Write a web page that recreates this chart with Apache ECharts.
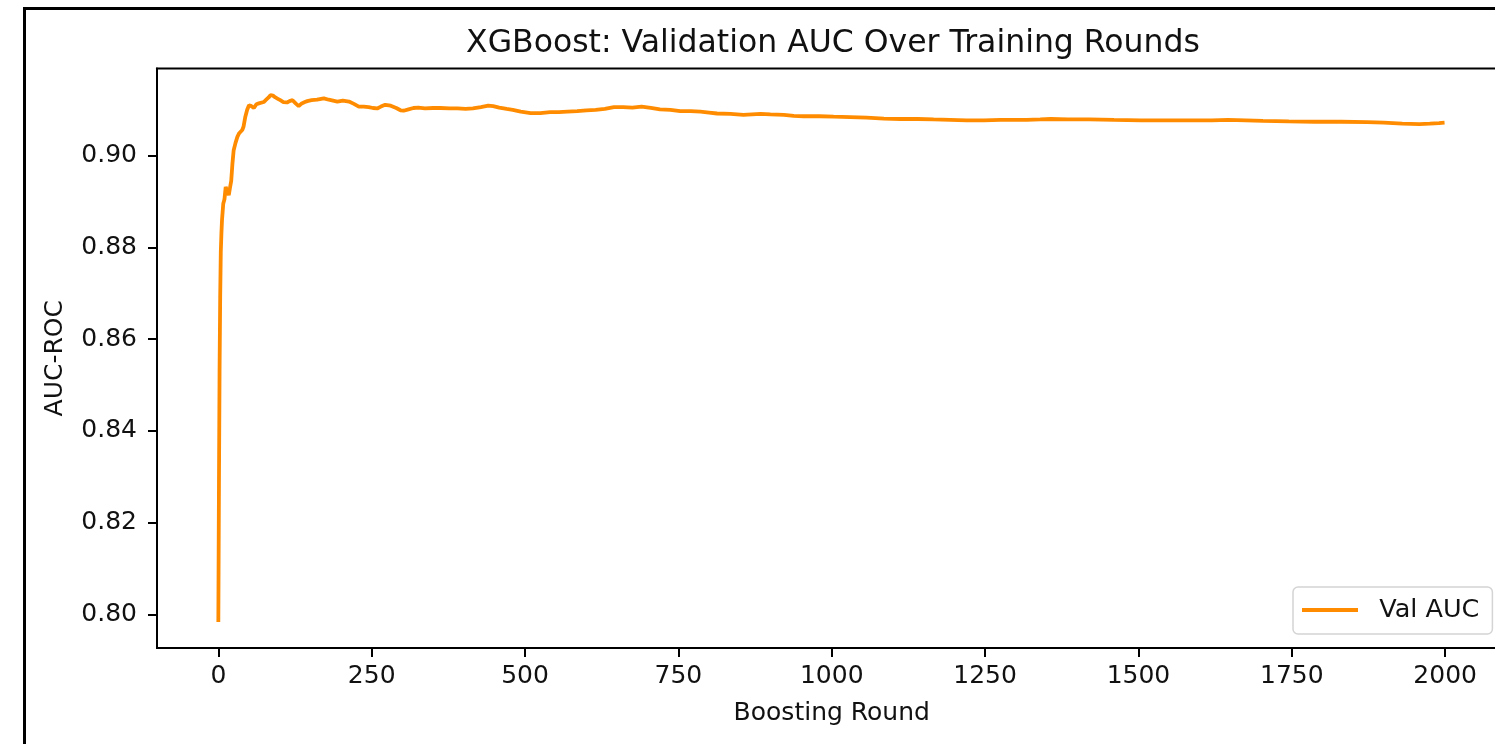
<!DOCTYPE html>
<html>
<head>
<meta charset="utf-8">
<script src="https://cdn.jsdelivr.net/npm/echarts@6/dist/echarts.min.js"></script>
<style>
    html, body { margin: 0; padding: 0; background: #fff; overflow: hidden; }
    #chart { width: 1520px; height: 744px; }
</style>
</head>
<body>
<div id="chart"></div>
<script>
// values (boosting round -> validation AUC)
const rounds = [
    0, 1, 2, 3, 4, 5, 6, 8, 10, 12, 14, 17, 19, 21, 23, 25, 28, 31, 34, 36, 39, 41, 44, 47, 50, 54, 58, 62, 66, 69,
    74, 78, 82, 85, 89, 93, 97, 101, 106, 112, 116, 121, 126, 131, 136, 141, 145, 152, 161, 172, 180, 187, 194, 203,
    213, 221, 229, 237, 245, 252, 259, 265, 272, 281, 290, 297, 302, 310, 318, 326, 337, 350, 362, 377, 390, 403, 415,
    428, 440, 448, 458, 470, 480, 493, 509, 525, 541, 555, 569, 585, 600, 615, 630, 645, 660, 675, 690, 705, 720, 737,
    753, 770, 786, 800, 813, 835, 856, 870, 884, 900, 922, 938, 954, 980, 1003, 1030, 1057, 1085, 1112, 1140, 1166,
    1193, 1220, 1248, 1275, 1300, 1318, 1340, 1357, 1385, 1420, 1460, 1504, 1545, 1589, 1620, 1646, 1675, 1703, 1745,
    1788, 1830, 1873, 1900, 1930, 1958, 1975, 1990, 1999,
]
const valAuc = [
    0.7983, 0.828, 0.853, 0.869, 0.879, 0.883, 0.886, 0.8895, 0.8905, 0.8932, 0.8925, 0.8914, 0.893, 0.8945, 0.8983,
    0.9012, 0.9028, 0.9041, 0.9049, 0.9052, 0.9056, 0.9063, 0.9085, 0.91, 0.911, 0.9108, 0.9104, 0.9112, 0.9114, 0.9118,
    0.9117, 0.9122, 0.9127, 0.9132, 0.9131, 0.9127, 0.9124, 0.9121, 0.9117, 0.9116, 0.9119, 0.9121, 0.9114, 0.9108,
    0.9114, 0.9117, 0.9119, 0.9121, 0.9122, 0.9125, 0.9122, 0.912, 0.9118, 0.912, 0.9118, 0.9113, 0.9107, 0.9107,
    0.9106, 0.9104, 0.9103, 0.9107, 0.9111, 0.9109, 0.9104, 0.9099, 0.9098, 0.9101, 0.9104, 0.9105, 0.9103, 0.9104,
    0.9104, 0.9103, 0.9103, 0.9102, 0.9103, 0.9106, 0.9109, 0.9108, 0.9105, 0.9102, 0.91, 0.9096, 0.9093, 0.9093,
    0.9095, 0.9095, 0.9096, 0.9097, 0.9099, 0.91, 0.9102, 0.9106, 0.9106, 0.9105, 0.9107, 0.9104, 0.9101, 0.91, 0.9097,
    0.9097, 0.9096, 0.9094, 0.9092, 0.9091, 0.9089, 0.909, 0.9091, 0.909, 0.9089, 0.9087, 0.9086, 0.9086, 0.9085,
    0.9084, 0.9083, 0.9081, 0.908, 0.908, 0.9079, 0.9078, 0.9077, 0.9077, 0.9078, 0.9078, 0.9078, 0.9079, 0.908, 0.9079,
    0.9079, 0.9078, 0.9077, 0.9077, 0.9077, 0.9077, 0.9078, 0.9077, 0.9076, 0.9075, 0.9074, 0.9074, 0.9073, 0.9072,
    0.907, 0.9069, 0.907, 0.9071, 0.9072,
]
const xTicks = [0, 250, 500, 750, 1000, 1250, 1500, 1750, 2000]
const yTicks = [0.8, 0.82, 0.84, 0.86, 0.88, 0.9]

const font = 'DejaVu Sans'
const ink = '#111'
const tickStyle = { length: 9, lineStyle: { color: '#000', width: 2 } }
const spine = { onZero: false, lineStyle: { color: '#000', width: 2 } }

const chart = echarts.init(document.getElementById('chart'), null, { renderer: 'canvas' })
chart.setOption({
    animation: false,
    backgroundColor: '#fff',
    title: {
        text: 'XGBoost: Validation AUC Over Training Rounds',
        left: 828,
        top: 23,
        textAlign: 'center',
        textStyle: { fontFamily: font, fontSize: 31.5, fontWeight: 'normal', color: ink },
    },
    legend: {
        left: 1293,
        top: 587,
        padding: [10, 13, 11, 9],
        borderColor: '#d4d4d4',
        borderWidth: 1.5,
        borderRadius: 5,
        backgroundColor: '#fff',
        icon: 'rect',
        itemWidth: 56,
        itemHeight: 4,
        formatter: (name) => '  ' + name,
        textStyle: { fontFamily: font, fontSize: 25.5, color: ink },
    },
    grid: { left: 157, top: 68.5, width: 1349.5, height: 579.5, show: true, borderColor: '#000', borderWidth: 2 },
    xAxis: {
        type: 'value',
        min: -100,
        max: 2100,
        name: 'Boosting Round',
        nameLocation: 'middle',
        nameGap: 53,
        nameTextStyle: { fontFamily: font, fontSize: 25, color: ink },
        axisLine: spine,
        axisTick: { ...tickStyle, customValues: xTicks },
        axisLabel: { customValues: xTicks, margin: 16, fontFamily: font, fontSize: 25, color: ink, formatter: (v) => String(v) },
        splitLine: { show: false },
    },
    yAxis: {
        type: 'value',
        min: 0.79265,
        max: 0.91901,
        name: 'AUC-ROC',
        nameLocation: 'middle',
        nameGap: 89,
        nameRotate: 90,
        nameTextStyle: { fontFamily: font, fontSize: 25, color: ink },
        axisLine: { show: true, ...spine },
        axisTick: { show: true, ...tickStyle, customValues: yTicks },
        axisLabel: { customValues: yTicks, margin: 20, fontFamily: font, fontSize: 25, color: ink, formatter: (v) => v.toFixed(2) },
        splitLine: { show: false },
    },
    graphic: [
        { type: 'rect', shape: { x: 23, y: 7, width: 1520, height: 3 }, style: { fill: '#000' } },
        { type: 'rect', shape: { x: 23, y: 7, width: 3, height: 760 }, style: { fill: '#000' } },
    ],
    series: [
        {
            name: 'Val AUC',
            type: 'line',
            data: rounds.map((r, i) => [r, valAuc[i]]),
            symbol: 'none',
            showSymbol: false,
            lineStyle: { color: '#ff8c00', width: 3.8 },
            itemStyle: { color: '#ff8c00' },
        },
    ],
})
</script>
</body>
</html>
